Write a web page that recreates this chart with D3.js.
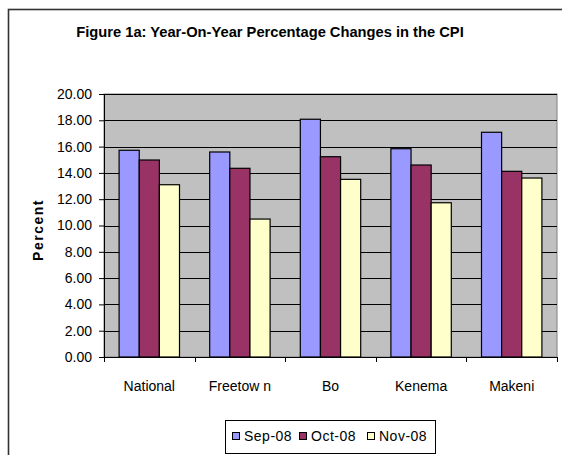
<!DOCTYPE html>
<html>
<head>
<meta charset="utf-8">
<script src="https://cdn.jsdelivr.net/npm/d3@7"></script>
<style>
  body { margin: 0; background: #fff; }
  svg { display: block; font-family: Arial, "Liberation Sans", sans-serif; }
</style>
</head>
<body>
<script>
// data
const regions = ["National", "Freetow n", "Bo", "Kenema", "Makeni"];
const months = ["Sep-08", "Oct-08", "Nov-08"];
const sep08 = [15.72, 15.59, 18.08, 15.84, 17.09];
const oct08 = [14.98, 14.35, 15.23, 14.60, 14.12];
const nov08 = [13.10, 10.49, 13.51, 11.73, 13.61];
const yTicks = [0, 2, 4, 6, 8, 10, 12, 14, 16, 18, 20];

const colors = ["#9999FF", "#993366", "#FFFFCC"];
const series = [sep08, oct08, nov08];

const width = 562, height = 455;
const margin = {top: 94, right: 5, bottom: 98, left: 104};

const svg = d3.select("body").append("svg")
  .attr("width", width)
  .attr("height", height);

// outer chart frame
svg.append("rect")
  .attr("x", 8.5).attr("y", 9.5)
  .attr("width", 600).attr("height", 500)
  .attr("fill", "#fff")
  .attr("stroke", "#333")
  .attr("stroke-width", 1.6);

svg.append("text")
  .attr("x", 270).attr("y", 37)
  .attr("text-anchor", "middle")
  .style("font-weight", "bold")
  .style("font-size", "14.7px")
  .text("Figure 1a: Year-On-Year Percentage Changes in the CPI");

const x0 = d3.scaleBand()
  .domain(regions)
  .range([margin.left, width - margin.right])
  .padding(0);

const x1 = d3.scaleBand()
  .domain(months)
  .range([0, x0.bandwidth()])
  .paddingInner(0)
  .paddingOuter(0.75);

const y = d3.scaleLinear()
  .domain([0, 20])
  .range([height - margin.bottom, margin.top]);

// plot area
svg.append("rect")
  .attr("x", margin.left).attr("y", margin.top)
  .attr("width", width - margin.right - margin.left)
  .attr("height", y(0) - margin.top)
  .attr("fill", "#C0C0C0")
  .attr("stroke", "#808080");

svg.append("g")
  .attr("stroke", "#000")
  .selectAll("line")
  .data(yTicks.slice(1))
  .enter().append("line")
    .attr("x1", margin.left)
    .attr("x2", width - margin.right)
    .attr("y1", d => Math.round(y(d)) + 0.5)
    .attr("y2", d => Math.round(y(d)) + 0.5);

const groups = svg.append("g")
  .selectAll("g")
  .data(regions)
  .enter().append("g")
    .attr("transform", d => `translate(${x0(d)},0)`);

groups.selectAll("rect")
  .data((d, i) => months.map((m, j) => ({month: m, value: series[j][i], color: colors[j]})))
  .enter().append("rect")
    .attr("x", d => x1(d.month))
    .attr("y", d => y(d.value))
    .attr("width", x1.bandwidth())
    .attr("height", d => y(0) - y(d.value))
    .attr("fill", d => d.color)
    .attr("stroke", "#000")
    .attr("stroke-width", 1.2);

// y axis
const yAxis = svg.append("g")
  .attr("transform", `translate(${margin.left},0)`)
  .call(d3.axisLeft(y).tickValues(yTicks).tickFormat(d3.format(".2f")).tickSize(5).tickPadding(7).tickSizeOuter(0));
yAxis.select(".domain").attr("d", `M0.5,${margin.top}V${y(0) + 5}`);
yAxis.selectAll("text").style("font-size", "14px").attr("fill", "#000");

// x axis
const xAxis = svg.append("g")
  .attr("transform", `translate(0,${y(0)})`)
  .call(d3.axisBottom(x0).tickSize(0).tickPadding(24).tickSizeOuter(0));
xAxis.selectAll("text").style("font-size", "14px").attr("fill", "#000");
xAxis.select(".domain").attr("stroke", "#000");
xAxis.append("g")
  .selectAll("line")
  .data(regions.concat([null]))
  .enter().append("line")
    .attr("x1", (d, i) => Math.round(margin.left + i * x0.step()) + 0.5)
    .attr("x2", (d, i) => Math.round(margin.left + i * x0.step()) + 0.5)
    .attr("y1", 0).attr("y2", 5)
    .attr("stroke", "#000");

svg.append("text")
  .attr("transform", "translate(43,230) rotate(-90)")
  .attr("text-anchor", "middle")
  .style("font-weight", "bold")
  .style("font-size", "14px")
  .style("letter-spacing", "1.5px")
  .text("Percent");

// legend
const legend = svg.append("g");
legend.append("rect")
  .attr("x", 225.5).attr("y", 420.5)
  .attr("width", 210).attr("height", 33)
  .attr("fill", "#fff")
  .attr("stroke", "#000");

const legendX = [232, 299, 367];
const item = legend.selectAll("g")
  .data(months)
  .enter().append("g")
    .attr("transform", (d, i) => `translate(${legendX[i]},432)`);
item.append("rect")
  .attr("x", 0.5).attr("y", 0.5)
  .attr("width", 7).attr("height", 7)
  .attr("fill", (d, i) => colors[i])
  .attr("stroke", "#000");
item.append("text")
  .attr("x", 12).attr("y", 9)
  .style("font-size", "14px")
  .style("letter-spacing", "0.5px")
  .text(d => d);
</script>
</body>
</html>
